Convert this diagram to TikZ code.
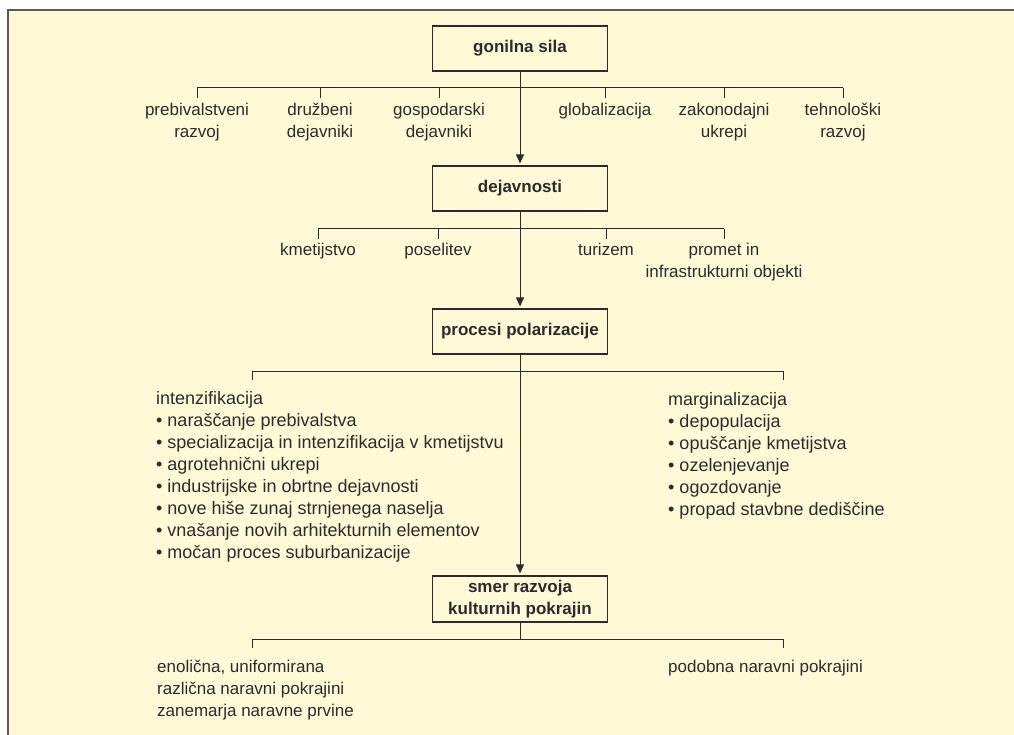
\documentclass[tikz,border=0pt]{standalone}
\usepackage{fontspec}
\setmainfont{Liberation Sans}
\usetikzlibrary{arrows.meta,positioning}
\definecolor{cA}{HTML}{2b2b2b}
\definecolor{cB}{HTML}{FFF9D7}
\definecolor{cC}{HTML}{5a5a5a}
\tikzset{
  box/.style={draw=cA,line width=1.2pt,fill=cB,minimum width=175pt,
              minimum height=45pt,inner sep=2pt,align=center,text=cA,
              font=\fontsize{17}{22}\selectfont\bfseries},
  lbl/.style={anchor=north,inner sep=0pt,align=center,text=cA,
              font=\fontsize{17}{22}\selectfont},
  lst/.style={anchor=north west,inner sep=0pt,align=left,text=cA,
              font=\fontsize{18}{22}\selectfont},
  link/.style={draw=cA,line width=1pt},
  flow/.style={link,-{Triangle[length=9pt,width=8pt]},shorten >=2pt},
}
\begin{document}
\begin{tikzpicture}[x=1pt,y=-1pt]
  \useasboundingbox (0,0) rectangle (1014,735);
  \fill[cB] (8,10) rectangle (1014,735);
  \draw[cC,line width=1.5pt] (8,735) -- (8,10) -- (1014,10);
  % main boxes
  \node[box](gon) at (520,48.5){gonilna sila};
  \node[box](dej) at (520,188.5){dejavnosti};
  \node[box](pro) at (520,331.5){procesi polarizacije};
  \node[box,minimum height=46pt](smer) at (520,599){smer razvoja\\kulturnih pokrajin};
  % driving forces
  \coordinate (b1) at (0,88);
  \node[lbl](pre) at (197,103){prebivalstveni\\razvoj};
  \node[lbl](dru) at (320,103){družbeni\\dejavniki};
  \node[lbl](gos) at (439,103){gospodarski\\dejavniki};
  \node[lbl](glo) at (605,103){globalizacija};
  \node[lbl](zak) at (724,103){zakonodajni\\ukrepi};
  \node[lbl](teh) at (843,103){tehnološki\\razvoj};
  \draw[link] (b1 -| pre) -- (b1 -| teh);
  \foreach \n in {pre,dru,gos,glo,zak,teh}
    \draw[link] (b1 -| \n) -- ([yshift=5pt]\n.north);
  \draw[flow] (gon) -- (dej);
  % activities
  \coordinate (b2) at (0,229);
  \node[lbl](kme) at (318,243){kmetijstvo};
  \node[lbl](pos) at (438,243){poselitev};
  \node[lbl](tur) at (606,243){turizem};
  \node[lbl](prm) at (724,243){promet in\\infrastrukturni objekti};
  \draw[link] (b2 -| kme) -- (b2 -| prm);
  \foreach \n in {kme,pos,tur,prm}
    \draw[link] (b2 -| \n) -- ([yshift=4pt]\n.north);
  \draw[flow] (dej) -- (pro);
  % polarisation
  \coordinate (b3) at (0,371);
  \coordinate (ti) at (252,380);
  \coordinate (tm) at (783,380);
  \node[lst](int) at (156,391){intenzifikacija\\
    • naraščanje prebivalstva\\
    • specializacija in intenzifikacija v kmetijstvu\\
    • agrotehnični ukrepi\\
    • industrijske in obrtne dejavnosti\\
    • nove hiše zunaj strnjenega naselja\\
    • vnašanje novih arhitekturnih elementov\\
    • močan proces suburbanizacije};
  \node[lst](mar) at (668,392){marginalizacija\\
    • depopulacija\\
    • opuščanje kmetijstva\\
    • ozelenjevanje\\
    • ogozdovanje\\
    • propad stavbne dediščine};
  \draw[link] (ti) -- (ti |- b3) -- (tm |- b3) -- (tm);
  \draw[flow] (pro) -- (smer);
  % direction
  \coordinate (b4) at (0,639);
  \coordinate (te) at (252,648);
  \coordinate (tp) at (783,648);
  \node[lbl,anchor=north west,align=left](eno) at (157,660){enolična, uniformirana\\različna naravni pokrajini\\zanemarja naravne prvine};
  \node[lbl,anchor=north west,align=left](pod) at (668,660){podobna naravni pokrajini};
  \draw[link] (te) -- (te |- b4) -- (tp |- b4) -- (tp);
  \draw[link] (smer) -- (smer |- b4);
\end{tikzpicture}
\end{document}
